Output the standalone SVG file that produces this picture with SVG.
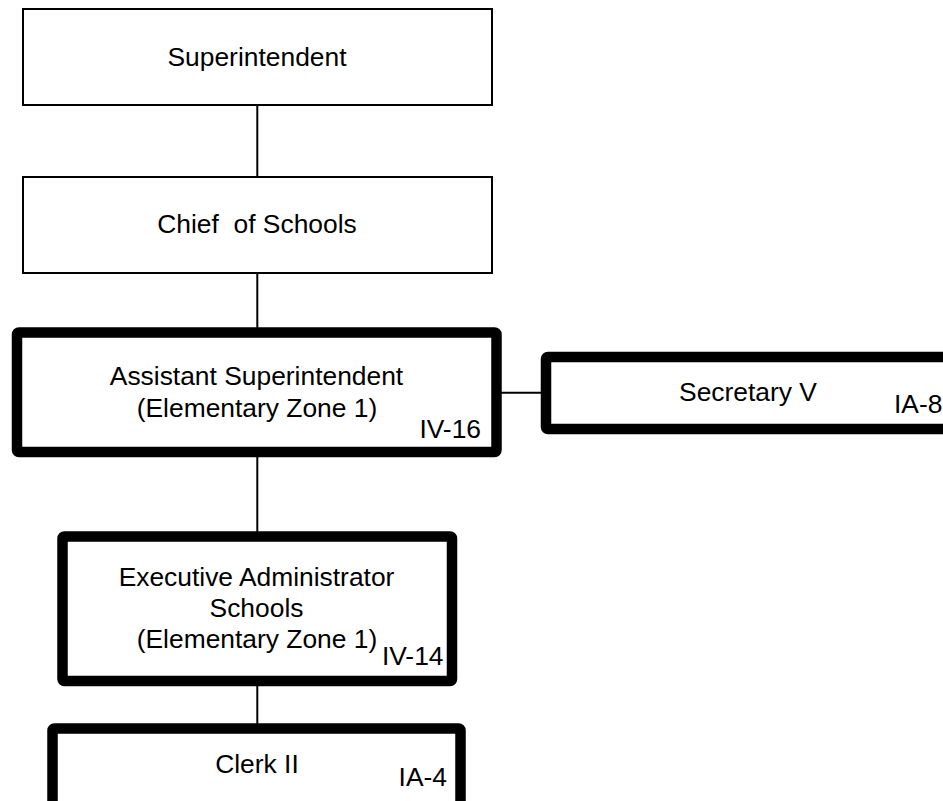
<svg xmlns="http://www.w3.org/2000/svg" width="943" height="801" viewBox="0 0 943 801">
<style>
.thin{fill:#fff;stroke:#000;stroke-width:2}
.thick{fill:#fff;stroke:#000;stroke-width:10.5}
.t{font-family:"Liberation Sans",Arial,sans-serif;font-size:26.4px;fill:#000}
.c{text-anchor:middle}
.e{text-anchor:end}
.conn line{stroke:#000;stroke-width:2}
</style>
<rect width="943" height="801" fill="#fff"/>
<g id="connectors" class="conn">
<line x1="257.3" y1="105" x2="257.3" y2="178"/>
<line x1="257.3" y1="273" x2="257.3" y2="328"/>
<line x1="496" y1="392.7" x2="546" y2="392.7"/>
<line x1="257.3" y1="456" x2="257.3" y2="532"/>
<line x1="257.3" y1="685" x2="257.3" y2="724"/>
</g>
<g id="superintendent">
<rect class="thin" x="23" y="9" width="469" height="96"/>
<text class="t c" x="257" y="65.5">Superintendent</text>
</g>
<g id="chief">
<rect class="thin" x="23" y="177" width="469" height="96"/>
<text class="t c" x="257" y="233" xml:space="preserve">Chief  of Schools</text>
</g>
<g id="asst">
<rect class="thick" x="17" y="332.5" width="479.5" height="119.5" rx="2"/>
<text class="t c" x="256.5" y="385">Assistant Superintendent</text>
<text class="t c" x="257" y="416.5">(Elementary Zone 1)</text>
<text class="t e" x="481" y="437.5">IV-16</text>
</g>
<g id="secretary">
<rect class="thick" x="546" y="357" width="420" height="72" rx="2"/>
<text class="t c" x="748" y="400.7">Secretary V</text>
<text class="t" x="894" y="412.7">IA-8</text>
</g>
<g id="exec">
<rect class="thick" x="62.5" y="536.5" width="389.5" height="144.5" rx="2"/>
<text class="t c" x="256.5" y="585.7">Executive Administrator</text>
<text class="t c" x="256.5" y="616.7">Schools</text>
<text class="t c" x="257" y="648.3">(Elementary Zone 1)</text>
<text class="t e" x="443.5" y="665">IV-14</text>
</g>
<g id="clerk">
<rect class="thick" x="52.5" y="728.5" width="408" height="100" rx="2"/>
<text class="t c" x="257" y="773">Clerk II</text>
<text class="t e" x="447" y="786">IA-4</text>
</g>
</svg>
